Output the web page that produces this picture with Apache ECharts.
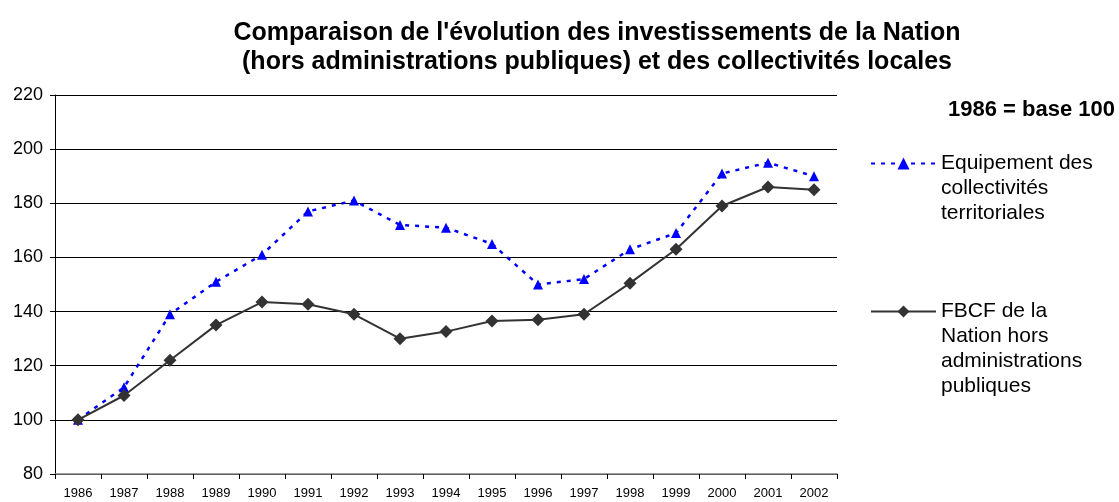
<!DOCTYPE html>
<html>
<head>
<meta charset="utf-8">
<script src="https://cdn.jsdelivr.net/npm/echarts@6/dist/echarts.min.js"></script>
<style>
  html, body { margin: 0; padding: 0; background: #fff; }
  #chart { width: 1119px; height: 502px; }
</style>
</head>
<body>
<div id="chart"></div>
<script>
// data (1986 = base 100)
const years = ['1986', '1987', '1988', '1989', '1990', '1991', '1992', '1993', '1994',
    '1995', '1996', '1997', '1998', '1999', '2000', '2001', '2002']
const equipement = [100, 112, 139, 151, 161, 177, 181, 172, 171, 165, 150, 152, 163, 169, 191, 195, 190]
const fbcf = [100, 109, 122, 135, 143.5, 142.7, 139, 130, 132.6, 136.5, 137, 139, 150.5, 163, 179, 186, 185]

const nameEquip = 'Equipement des collectivités territoriales'
const nameFbcf = 'FBCF de la Nation hors administrations publiques'

// legend labels, split over lines like the original
// (blank lines in front keep the icon level with the first line)
const legendLabels = {
    [nameEquip]: '\n\nEquipement des\ncollectivités\nterritoriales',
    [nameFbcf]: '\n\n\nFBCF de la\nNation hors\nadministrations\npubliques'
}

const FONT = 'Arial, "Liberation Sans", sans-serif'

const chart = echarts.init(document.getElementById('chart'))

const legendCommon = {
    orient: 'vertical',
    left: 865,
    itemWidth: 65,
    itemHeight: 15,
    selectedMode: false,
    formatter: (name) => legendLabels[name],
    textStyle: {
        fontFamily: FONT,
        fontSize: 21,
        lineHeight: 25,
        color: '#000'
    }
}

const option = {
    animation: false,
    backgroundColor: '#fff',
    title: [
        {
            text: "Comparaison de l'évolution des investissements de la Nation\n(hors administrations publiques) et des collectivités locales",
            left: 592,
            top: 14,
            textAlign: 'center',
            textStyle: {
                fontFamily: FONT,
                fontSize: 25,
                fontWeight: 'bold',
                lineHeight: 29,
                color: '#000'
            }
        },
        {
            text: '1986 = base 100',
            left: 943,
            top: 94,
            textStyle: {
                fontFamily: FONT,
                fontSize: 22,
                fontWeight: 'bold',
                color: '#000'
            }
        }
    ],
    legend: [
        { ...legendCommon, data: [nameEquip], top: 96 },
        { ...legendCommon, data: [nameFbcf], top: 219 }
    ],
    grid: {
        left: 55,
        right: 282,
        top: 95,
        bottom: 28
    },
    xAxis: {
        type: 'category',
        data: years,
        boundaryGap: true,
        axisLine: { lineStyle: { color: '#808080', width: 1.5 } },
        axisTick: { show: true, interval: 0, length: 5, lineStyle: { color: '#000' } },
        axisLabel: {
            interval: 0,
            margin: 13,
            fontFamily: FONT,
            fontSize: 13,
            color: '#000'
        }
    },
    yAxis: {
        type: 'value',
        min: 80,
        max: 220,
        interval: 20,
        axisLine: { show: true, lineStyle: { color: '#000' } },
        axisTick: { show: true, length: 5, lineStyle: { color: '#000' } },
        axisLabel: {
            margin: 12,
            fontFamily: FONT,
            fontSize: 18,
            color: '#000'
        },
        splitLine: { show: true, lineStyle: { color: '#000', width: 1 } }
    },
    series: [
        {
            name: nameEquip,
            type: 'line',
            data: equipement,
            symbol: 'triangle',
            symbolSize: 10,
            itemStyle: { color: '#0000ff' },
            lineStyle: { color: '#0000ff', width: 2.5, type: [4, 6] },
            z: 2
        },
        {
            name: nameFbcf,
            type: 'line',
            data: fbcf,
            symbol: 'diamond',
            symbolSize: 13,
            itemStyle: { color: '#333333' },
            lineStyle: { color: '#333333', width: 2 },
            z: 3
        }
    ]
}

chart.setOption(option)
</script>
</body>
</html>
